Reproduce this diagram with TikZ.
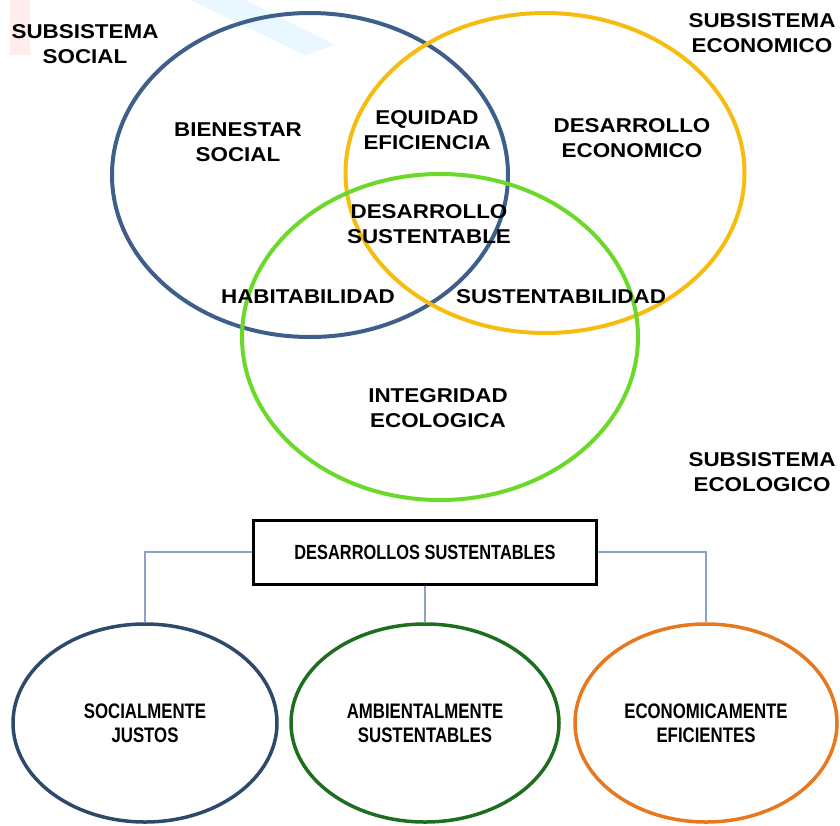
\documentclass[tikz,border=0pt]{standalone}
\usepackage{fontspec}
\setmainfont{Liberation Sans}
\newfontfamily\comicf[FakeStretch=1.12]{Liberation Sans}
\newfontfamily\narrowf[FakeStretch=0.8]{Liberation Sans}
\usetikzlibrary{shapes.geometric}
\definecolor{vblue}{HTML}{3E5F8A}
\definecolor{vyellow}{HTML}{F6BC0F}
\definecolor{vgreen}{HTML}{6BD92A}
\definecolor{bblue}{HTML}{2D4A6B}
\definecolor{bgreen}{HTML}{1F6E1F}
\definecolor{borange}{HTML}{E8781E}
\definecolor{connc}{HTML}{8BA3C9}
\tikzset{
  venn/.style={ellipse, draw, line width=4pt, inner sep=0pt},
  vlabel/.style={font=\comicf\bfseries\fontsize{20}{25}\selectfont, align=center, inner sep=0pt, text=black},
  bell/.style={ellipse, draw, line width=3.5pt, inner sep=0pt, minimum height=198pt,
     font=\narrowf\bfseries\fontsize{21}{24}\selectfont, align=center},
  conn/.style={draw=connc, line width=1.2pt},
  mainbox/.style={draw=black, line width=3pt, minimum width=343pt, minimum height=64pt, inner sep=0pt,
     font=\narrowf\bfseries\fontsize{20.5}{22}\selectfont}
}
\begin{document}
\begin{tikzpicture}[x=1pt,y=-1pt]
\useasboundingbox (0,0) rectangle (840,825);
% faint background marks
\fill[red!12, opacity=0.6] (10,0) rectangle (30,55);
\fill[cyan!12, opacity=0.7] (190,0) -- (245,0) -- (335,45) -- (305,55) -- cycle;
% Venn ellipses
\node[venn, draw=vblue, minimum width=396pt, minimum height=324pt] (social) at (310,175) {};
\node[venn, draw=vyellow, minimum width=399pt, minimum height=320pt] (econ) at (545,173) {};
\node[venn, draw=vgreen, minimum width=396pt, minimum height=326pt] (eco) at (440,337) {};
% labels
\node[vlabel] (lsoc) at (85,44) {SUBSISTEMA\\SOCIAL};
\node[vlabel] (lecon) at (762,33) {SUBSISTEMA\\ECONOMICO};
\node[vlabel] (leco) at (762,472) {SUBSISTEMA\\ECOLOGICO};
\node[vlabel] (bien) at (238,142) {BIENESTAR\\SOCIAL};
\node[vlabel] (equi) at (427,130) {EQUIDAD\\EFICIENCIA};
\node[vlabel] (dese) at (632,138) {DESARROLLO\\ECONOMICO};
\node[vlabel] (dsus) at (429,224) {DESARROLLO\\SUSTENTABLE};
\node[vlabel] (habi) at (308,297) {HABITABILIDAD};
\node[vlabel] (sust) at (561,297) {SUSTENTABILIDAD};
\node[vlabel] (inte) at (438,408) {INTEGRIDAD\\ECOLOGICA};
% bottom hierarchy
\node[mainbox] (box) at (425,552) {DESARROLLOS SUSTENTABLES};
\node[bell, draw=bblue, minimum width=264pt] (justos) at (145,723) {SOCIALMENTE\\JUSTOS};
\node[bell, draw=bgreen, minimum width=268pt] (amb) at (425,723) {AMBIENTALMENTE\\SUSTENTABLES};
\node[bell, draw=borange, minimum width=262pt] (efic) at (706,723) {ECONOMICAMENTE\\EFICIENTES};
\draw[conn] (box.west) -| (justos.north);
\draw[conn] (box.east) -| (efic.north);
\draw[conn] (box.south) -- (amb.north);
\end{tikzpicture}
\end{document}
